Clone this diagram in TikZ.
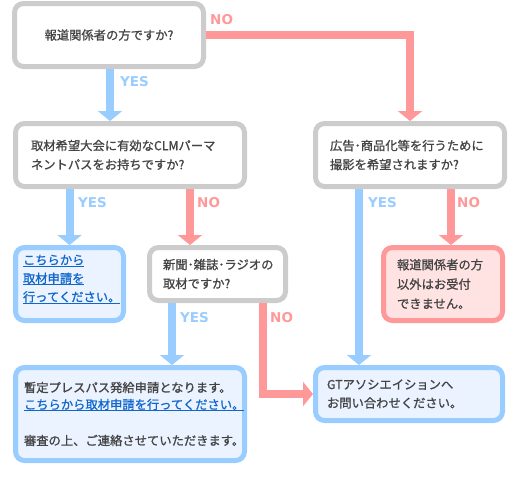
\documentclass[tikz,border=0pt]{standalone}
\usepackage{fontspec}
\setmainfont{Noto Sans CJK JP}[BoldFont=Noto Sans CJK JP, BoldFeatures={FakeBold=1.0}]
\newfontfamily\labfont{DejaVu Sans}
\usetikzlibrary{arrows.meta}
\definecolor{gbord}{HTML}{CCCCCC}
\definecolor{bline}{HTML}{99CCFF}
\definecolor{rline}{HTML}{FF9999}
\definecolor{bfill}{HTML}{EAF3FF}
\definecolor{rfill}{HTML}{FFE2E2}
\definecolor{txt}{HTML}{444444}
\definecolor{linkc}{HTML}{1166CC}
\newcommand{\lnk}[1]{\textcolor{linkc}{\underline{\smash{#1}}}}
\begin{document}
\begin{tikzpicture}[x=1pt,y=-1pt,
  box/.style={rounded corners=9pt, line width=5pt, inner xsep=0pt, inner ysep=0pt,
    text=txt, font=\fontsize{12.3}{19}\selectfont\bfseries, align=left},
  qbox/.style={box, draw=gbord, fill=white},
  bbox/.style={box, draw=bline, fill=bfill},
  rbox/.style={box, draw=rline, fill=rfill},
  yesline/.style={draw=bline, line width=8pt, -{Triangle[width=24pt,length=10pt]}},
  noline/.style={draw=rline, line width=8pt, -{Triangle[width=24pt,length=10pt]}},
  lab/.style={font=\labfont\fontsize{13.5}{13.5}\selectfont\bfseries, anchor=west, inner sep=0pt},
  yeslab/.style={lab, text=bline},
  nolab/.style={lab, text=rline}
]
\useasboundingbox (0,0) rectangle (520,480);
% boxes
\node[qbox, align=center, minimum width=189pt, minimum height=63pt, text width=170pt] (b1) at (109,35)
  {報道関係者の方ですか?};
\node[qbox, minimum width=229pt, minimum height=63pt, text width=198pt] (b2) at (130,155)
  {取材希望大会に有効なCLMパーマ\\ネントパスをお持ちですか?};
\node[qbox, minimum width=189pt, minimum height=63pt, text width=160pt] (b4) at (410,155)
  {広告･商品化等を行うために\\撮影を希望されますか?};
\node[bbox, minimum width=108pt, minimum height=73pt, text width=93pt, font=\fontsize{12.3}{18.5}\selectfont\bfseries] (bl) at (69.5,284)
  {\lnk{こちらから}\\\lnk{取材申請を}\\\lnk{行ってください。}};
\node[qbox, minimum width=136pt, minimum height=53pt, text width=109pt] (b3) at (217.5,274)
  {新聞･雑誌･ラジオの\\取材ですか?};
\node[rbox, minimum width=119pt, minimum height=73pt, text width=92pt, font=\fontsize{12.3}{19.5}\selectfont\bfseries] (br) at (443,284)
  {報道関係者の方\\以外はお受付\\できません。};
\node[bbox, minimum width=187pt, minimum height=53pt, text width=164pt, font=\fontsize{12.3}{18.5}\selectfont\bfseries] (gt) at (409,394)
  {GTアソシエイションへ\\お問い合わせください。};
\node[bbox, minimum width=229pt, minimum height=93pt, text width=212pt, font=\fontsize{12.3}{17}\selectfont\bfseries] (big) at (130,414)
  {暫定プレスパス発給申請となります。\\\lnk{こちらから取材申請を行ってください。}\\[19pt]審査の上、ご連絡させていただきます。};
% helper coordinates
\coordinate (x110) at (110,0);
\coordinate (x190) at (190,0);
\coordinate (x172) at (172,0);
\coordinate (x263) at (263,0);
\coordinate (x359) at (359,0);
\coordinate (x451) at (451,0);
% connectors
\draw[noline] (b1.east) -| (b4.north);
\draw[yesline] (b1.south -| x110) -- (b2.north -| x110);
\draw[yesline] (b2.south -| bl.north) -- (bl.north);
\draw[noline] (b2.south -| x190) -- (b3.north -| x190);
\draw[yesline] (b3.south -| x172) -- (big.north -| x172);
\draw[noline] (b3.south -| x263) |- (gt.west);
\draw[yesline] (b4.south -| x359) -- (gt.north -| x359);
\draw[noline] (b4.south -| x451) -- (br.north -| x451);
% labels
\node[nolab] (n1) at (210,20) {NO};
\node[yeslab] (y1) at (120,82) {YES};
\node[yeslab] (y2) at (78,203) {YES};
\node[nolab] (n2) at (197,203) {NO};
\node[yeslab] (y4) at (368,203) {YES};
\node[nolab] (n4) at (457,203) {NO};
\node[yeslab] (y3) at (180,318) {YES};
\node[nolab] (n3) at (270,318) {NO};
\end{tikzpicture}
\end{document}
